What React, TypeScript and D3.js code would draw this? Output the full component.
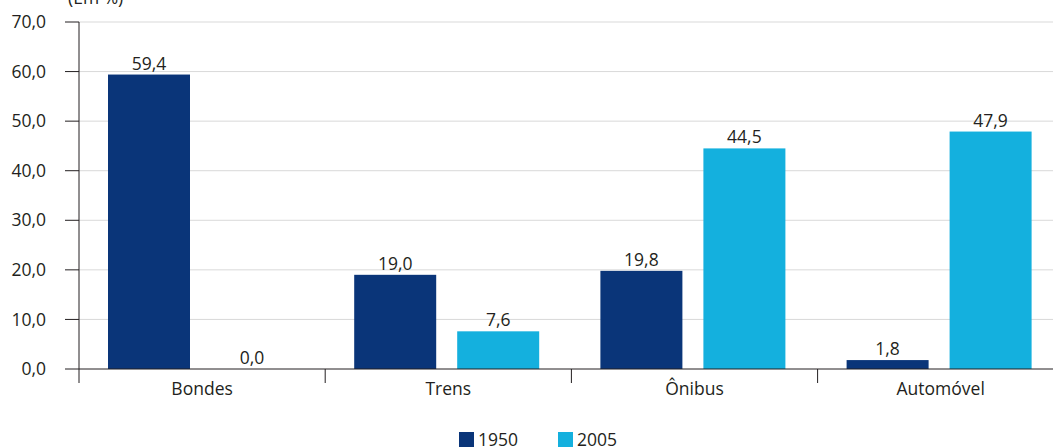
import React from "react";
import * as d3 from "d3";

const categories = ["Bondes", "Trens", "Ônibus", "Automóvel"];
const series = ["1950", "2005"];
const values1950 = [59.4, 19.0, 19.8, 1.8];
const values2005 = [0.0, 7.6, 44.5, 47.9];
const yTicks = [0, 10, 20, 30, 40, 50, 60, 70];
const colors = ["#0a3579", "#14b0de"];
const unitLabel = "(Em %)";

const W = 1053;
const H = 447;
const FONT = "'Open Sans', 'Noto Sans', sans-serif";
const FS = 17.5;

export default function App() {
  const x0 = 79;
  const bandW = 246.2;
  const x = d3
    .scaleBand<string>()
    .domain(categories)
    .range([x0, x0 + bandW * categories.length])
    .paddingInner(0)
    .paddingOuter(0);
  const y = d3.scaleLinear().domain([0, 70]).range([369, 22]);
  const xs = d3.scaleBand<string>().domain(series).range([29, 29 + 82 * 2 + 21]).paddingInner(21 / 103).paddingOuter(0);
  const fmt = (v: number) => v.toFixed(1).replace(".", ",");
  const data = [values1950, values2005];

  return (
    <svg width={W} height={H} style={{ position: "absolute", left: 0, top: 0, background: "#fff" }} fontFamily={FONT}>
      <text x={68} y={4} fontSize={FS} fill="#231f20">{unitLabel}</text>
      {yTicks.map((t) => (
        <g key={t}>
          {t > 0 && <line x1={x0} x2={W} y1={y(t)} y2={y(t)} stroke="#d9d9d9" strokeWidth={1} />}
          <line x1={65} x2={x0} y1={y(t)} y2={y(t)} stroke="#231f20" strokeWidth={1} />
          <text x={46} y={y(t)} dy="0.35em" textAnchor="end" fontSize={FS} fill="#231f20">{fmt(t)}</text>
        </g>
      ))}
      {categories.map((c, i) =>
        series.map((s, j) => {
          const v = data[j][i];
          const bx = (x(c) as number) + (xs(s) as number);
          const bw = xs.bandwidth();
          return (
            <g key={c + s}>
              <rect x={bx} y={y(v)} width={bw} height={y(0) - y(v)} fill={colors[j]} />
              <text x={bx + bw / 2} y={y(v) - 5} textAnchor="middle" fontSize={FS} fill="#231f20">{fmt(v)}</text>
            </g>
          );
        })
      )}
      <line x1={x0} x2={W} y1={y(0)} y2={y(0)} stroke="#231f20" strokeWidth={1} />
      <line x1={x0} x2={x0} y1={y(70)} y2={383} stroke="#231f20" strokeWidth={1} />
      {categories.map((c, i) => (
        <g key={c}>
          {i > 0 && <line x1={x(c)} x2={x(c)} y1={y(0)} y2={383} stroke="#231f20" strokeWidth={1} />}
          <text x={(x(c) as number) + bandW / 2} y={389} dy="0.35em" textAnchor="middle" fontSize={FS} fill="#231f20">{c}</text>
        </g>
      ))}
      {series.map((s, j) => (
        <g key={s} transform={`translate(${459 + j * 99},432)`}>
          <rect x={0} y={0} width={15} height={15} fill={colors[j]} />
          <text x={19} y={14} fontSize={FS} fill="#231f20">{s}</text>
        </g>
      ))}
    </svg>
  );
}
